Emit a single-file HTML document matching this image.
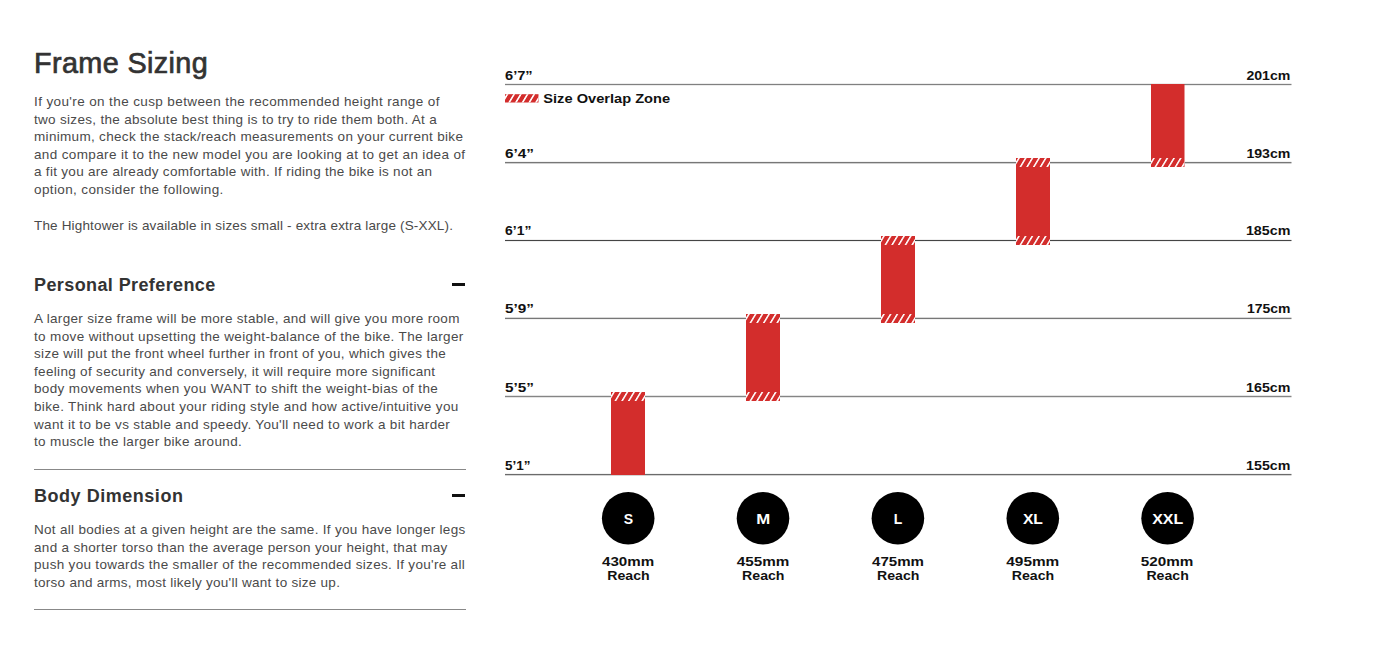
<!DOCTYPE html>
<html lang="en">
<head>
<meta charset="utf-8">
<title>Frame Sizing</title>
<style>
  html, body { margin: 0; padding: 0; background: #fff; }
  body { width: 1374px; height: 648px; position: relative; overflow: hidden;
         font-family: "Liberation Sans", Arial, sans-serif; }
  .col { position: absolute; left: 34px; top: 0; width: 432px; }
  h1, h2, p { margin: 0; padding: 0; position: absolute; left: 0; white-space: nowrap; }
  h1 { font-size: 28.8px; letter-spacing: 0.37px; font-weight: normal; -webkit-text-stroke: 0.7px #333; color: #333; line-height: 32px; }
  h2 { font-size: 18px; font-weight: bold; -webkit-text-stroke: 0px #333; color: #333; letter-spacing: 0.4px; line-height: 22px; }
  p { font-size: 13.5px; color: #4a4a4a; line-height: 17.6px; }
  p span { display: block; height: 17.6px; }
  .minus { position: absolute; left: 418px; width: 13px; height: 2.5px; background: #111; }
  .rule { position: absolute; left: 0; width: 432px; height: 1px; background: #888; }
  svg { position: absolute; left: 0; top: 0; }
  svg text { font-family: "Liberation Sans", Arial, sans-serif; font-weight: bold; }
</style>
</head>
<body>
<div class="col">
  <h1 style="top:46.5px">Frame Sizing</h1>
  <p style="top:93px">
    <span style="letter-spacing:0.385px">If you're on the cusp between the recommended height range of</span>
    <span style="letter-spacing:0.310px">two sizes, the absolute best thing is to try to ride them both. At a</span>
    <span style="letter-spacing:0.317px">minimum, check the stack/reach measurements on your current bike</span>
    <span style="letter-spacing:0.363px">and compare it to the new model you are looking at to get an idea of</span>
    <span style="letter-spacing:0.297px">a fit you are already comfortable with. If riding the bike is not an</span>
    <span style="letter-spacing:0.383px">option, consider the following.</span>
  </p>
  <p style="top:217px">
    <span style="letter-spacing:0.167px">The Hightower is available in sizes small - extra extra large (S-XXL).</span>
  </p>

  <h2 style="top:274px">Personal Preference</h2>
  <div class="minus" style="top:283px"></div>
  <p style="top:310px">
    <span style="letter-spacing:0.325px">A larger size frame will be more stable, and will give you more room</span>
    <span style="letter-spacing:0.363px">to move without upsetting the weight-balance of the bike. The larger</span>
    <span style="letter-spacing:0.323px">size will put the front wheel further in front of you, which gives the</span>
    <span style="letter-spacing:0.324px">feeling of security and conversely, it will require more significant</span>
    <span style="letter-spacing:0.358px">body movements when you WANT to shift the weight-bias of the</span>
    <span style="letter-spacing:0.350px">bike. Think hard about your riding style and how active/intuitive you</span>
    <span style="letter-spacing:0.324px">want it to be vs stable and speedy. You'll need to work a bit harder</span>
    <span style="letter-spacing:0.350px">to muscle the larger bike around.</span>
  </p>
  <div class="rule" style="top:469px"></div>

  <h2 style="top:485px;letter-spacing:.53px">Body Dimension</h2>
  <div class="minus" style="top:494px"></div>
  <p style="top:521px">
    <span style="letter-spacing:0.300px">Not all bodies at a given height are the same. If you have longer legs</span>
    <span style="letter-spacing:0.312px">and a shorter torso than the average person your height, that may</span>
    <span style="letter-spacing:0.309px">push you towards the smaller of the recommended sizes. If you're all</span>
    <span style="letter-spacing:0.274px">torso and arms, most likely you'll want to size up.</span>
  </p>
  <div class="rule" style="top:609px"></div>
</div>

<svg width="1374" height="648" viewBox="0 0 1374 648">
  <defs>
    <pattern id="hatch" patternUnits="userSpaceOnUse" width="6.7" height="9" patternTransform="translate(3.4,9) skewX(-31)">
      <rect x="0" y="0" width="1.8" height="9" fill="#fff"/>
    </pattern>
    <pattern id="hatchL" patternUnits="userSpaceOnUse" width="6.7" height="9" patternTransform="translate(3.2,8.3) skewX(-31)">
      <rect x="0" y="0" width="1.9" height="9" fill="#fff"/>
    </pattern>
  </defs>
  <!-- grid lines -->
  <g>
    <rect x="505" y="83" width="786.5" height="1" fill="#ececec"/><rect x="505" y="84" width="786.5" height="1" fill="#808080"/><rect x="505" y="85" width="786.5" height="1" fill="#ececec"/>
    <rect x="505" y="161" width="786.5" height="1" fill="#f2f2f2"/><rect x="505" y="162" width="786.5" height="1" fill="#777777"/><rect x="505" y="163" width="786.5" height="1" fill="#cfcfcf"/>
    <rect x="505" y="239" width="786.5" height="1" fill="#f0f0f0"/><rect x="505" y="240" width="786.5" height="1" fill="#454545"/><rect x="505" y="241" width="786.5" height="1" fill="#f0f0f0"/>
    <rect x="505" y="317" width="786.5" height="1" fill="#d8d8d8"/><rect x="505" y="318" width="786.5" height="1" fill="#777777"/><rect x="505" y="319" width="786.5" height="1" fill="#f2f2f2"/>
    <rect x="505" y="395" width="786.5" height="1" fill="#e4e4e4"/><rect x="505" y="396" width="786.5" height="1" fill="#858585"/><rect x="505" y="397" width="786.5" height="1" fill="#e4e4e4"/>
    <rect x="505" y="473" width="786.5" height="1" fill="#f2f2f2"/><rect x="505" y="474" width="786.5" height="1" fill="#6b6b6b"/><rect x="505" y="475" width="786.5" height="1" fill="#d5d5d5"/>
  </g>
  <!-- left labels -->
  <g font-size="13" fill="#111">
    <text x="505" y="80" textLength="27.7" lengthAdjust="spacingAndGlyphs">6’7”</text>
    <text x="505" y="158.2" textLength="29" lengthAdjust="spacingAndGlyphs">6’4”</text>
    <text x="505" y="235.4" textLength="26.4" lengthAdjust="spacingAndGlyphs">6’1”</text>
    <text x="505" y="313.3" textLength="29" lengthAdjust="spacingAndGlyphs">5’9”</text>
    <text x="505" y="391.8" textLength="29" lengthAdjust="spacingAndGlyphs">5’5”</text>
    <text x="505" y="470.4" textLength="25.5" lengthAdjust="spacingAndGlyphs">5’1”</text>
  </g>
  <!-- right labels -->
  <g font-size="13" fill="#111" text-anchor="end">
    <text x="1290.4" y="80" textLength="44" lengthAdjust="spacingAndGlyphs">201cm</text>
    <text x="1290.4" y="158.2" textLength="44" lengthAdjust="spacingAndGlyphs">193cm</text>
    <text x="1290.4" y="235.4" textLength="44.5" lengthAdjust="spacingAndGlyphs">185cm</text>
    <text x="1290.4" y="313.3" textLength="43.5" lengthAdjust="spacingAndGlyphs">175cm</text>
    <text x="1290.4" y="391.8" textLength="44.3" lengthAdjust="spacingAndGlyphs">165cm</text>
    <text x="1290.4" y="470.4" textLength="44.3" lengthAdjust="spacingAndGlyphs">155cm</text>
  </g>
  <!-- legend -->
  <g transform="translate(505,94.2)">
    <rect width="33.5" height="8.3" fill="#d32d2c"/>
    <rect width="33.5" height="8.3" fill="url(#hatchL)"/>
  </g>
  <text x="543.3" y="103" font-size="13" fill="#111" textLength="126.8" lengthAdjust="spacingAndGlyphs">Size Overlap Zone</text>

  <!-- bars -->
  <g fill="#d32d2c">
    <rect x="611" y="392" width="34" height="83"/>
    <rect x="746" y="314" width="34" height="87"/>
    <rect x="881" y="236" width="34" height="87"/>
    <rect x="1016" y="158" width="34" height="87"/>
    <rect x="1151" y="84" width="33.5" height="83"/>
  </g>
  <g fill="url(#hatch)">
    <rect x="0" y="0" width="34" height="9" transform="translate(611,392)"/>
    <rect x="0" y="0" width="34" height="9" transform="translate(746,314)"/>
    <rect x="0" y="0" width="34" height="9" transform="translate(746,392)"/>
    <rect x="0" y="0" width="34" height="9" transform="translate(881,236)"/>
    <rect x="0" y="0" width="34" height="9" transform="translate(881,314)"/>
    <rect x="0" y="0" width="34" height="9" transform="translate(1016,158)"/>
    <rect x="0" y="0" width="34" height="9" transform="translate(1016,236)"/>
    <rect x="0" y="0" width="33.5" height="9" transform="translate(1151,158)"/>
  </g>

  <!-- size circles -->
  <g fill="#000">
    <circle cx="628.2" cy="518.2" r="26.3"/>
    <circle cx="763" cy="518.2" r="26.3"/>
    <circle cx="897.9" cy="518.2" r="26.3"/>
    <circle cx="1032.8" cy="518.2" r="26.3"/>
    <circle cx="1167.6" cy="518.2" r="26.3"/>
  </g>
  <g font-size="14" fill="#fff" text-anchor="middle">
    <text x="628.3" y="523.7">S</text>
    <text x="763.3" y="523.7" textLength="14" lengthAdjust="spacingAndGlyphs">M</text>
    <text x="898" y="523.7">L</text>
    <text x="1032.9" y="523.7" textLength="20" lengthAdjust="spacingAndGlyphs">XL</text>
    <text x="1167.7" y="523.7" textLength="31" lengthAdjust="spacingAndGlyphs">XXL</text>
  </g>
  <g font-size="13" fill="#111" text-anchor="middle">
    <text x="628.1" y="566.2" textLength="52.2" lengthAdjust="spacingAndGlyphs">430mm</text>
    <text x="628.5" y="580" textLength="42.4" lengthAdjust="spacingAndGlyphs">Reach</text>
    <text x="763.1" y="566.2" textLength="52.5" lengthAdjust="spacingAndGlyphs">455mm</text>
    <text x="763.3" y="580" textLength="42.4" lengthAdjust="spacingAndGlyphs">Reach</text>
    <text x="898" y="566.2" textLength="52" lengthAdjust="spacingAndGlyphs">475mm</text>
    <text x="898.2" y="580" textLength="42.4" lengthAdjust="spacingAndGlyphs">Reach</text>
    <text x="1032.8" y="566.2" textLength="53" lengthAdjust="spacingAndGlyphs">495mm</text>
    <text x="1033" y="580" textLength="42.4" lengthAdjust="spacingAndGlyphs">Reach</text>
    <text x="1167.1" y="566.2" textLength="52.6" lengthAdjust="spacingAndGlyphs">520mm</text>
    <text x="1167.6" y="580" textLength="42.4" lengthAdjust="spacingAndGlyphs">Reach</text>
  </g>
</svg>
</body>
</html>
